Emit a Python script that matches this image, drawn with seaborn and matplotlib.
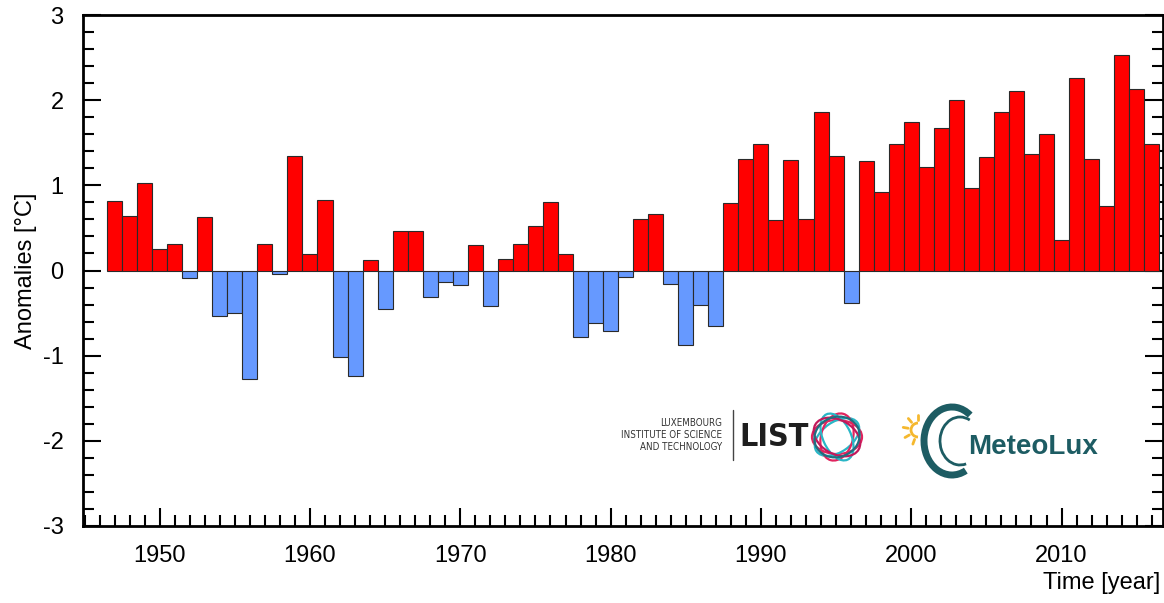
import numpy as np
import pandas as pd
import matplotlib
matplotlib.use("Agg")
import matplotlib.pyplot as plt
import seaborn as sns
from matplotlib.patches import Ellipse, Arc
from matplotlib.transforms import IdentityTransform
from matplotlib.ticker import MultipleLocator

years = list(range(1947, 2017))
anomalies = [
    0.82, 0.64, 1.03, 0.25, 0.31, -0.09, 0.63, -0.53, -0.50, -1.27,
    0.31, -0.04, 1.35, 0.19, 0.83, -1.01, -1.24, 0.12, -0.45, 0.46,
    0.46, -0.31, -0.14, -0.17, 0.30, -0.42, 0.13, 0.31, 0.52, 0.80,
    0.19, -0.78, -0.62, -0.71, -0.08, 0.60, 0.66, -0.16, -0.87, -0.40,
    -0.65, 0.79, 1.31, 1.48, 0.59, 1.30, 0.61, 1.86, 1.35, -0.38,
    1.29, 0.92, 1.49, 1.74, 1.22, 1.67, 2.00, 0.97, 1.33, 1.86,
    2.11, 1.37, 1.60, 0.36, 2.26, 1.31, 0.76, 2.53, 2.13, 1.49,
]
x_ticks = [1950, 1960, 1970, 1980, 1990, 2000, 2010]
y_ticks = [-3, -2, -1, 0, 1, 2, 3]

df = pd.DataFrame({"year": years, "anomaly": anomalies})
df["sign"] = np.where(df["anomaly"] >= 0, "pos", "neg")

sns.set_theme(style="white")
plt.rcParams["font.family"] = ["Liberation Sans", "DejaVu Sans"]
plt.rcParams["text.color"] = "black"
plt.rcParams["axes.labelcolor"] = "black"
plt.rcParams["xtick.color"] = "black"
plt.rcParams["ytick.color"] = "black"

W, H = 1164, 603
fig = plt.figure(figsize=(W / 100, H / 100), dpi=100)
ax = fig.add_axes([83 / W, 1 - 526 / H, 1080 / W, 511 / H])

sns.barplot(data=df, x="year", y="anomaly", hue="sign",
            palette={"pos": "#FF0000", "neg": "#6699FF"}, saturation=1,
            native_scale=True, width=1.0, dodge=False,
            edgecolor="#2a2a2a", linewidth=0.8, legend=False, ax=ax)

ax.set_xlim(1944.9, 2016.75)
ax.set_ylim(-3, 3)
ax.set_xticks(x_ticks)
ax.set_xticklabels([str(t) for t in x_ticks])
ax.set_yticks(y_ticks)
ax.set_yticklabels([str(t) for t in y_ticks])
ax.xaxis.set_minor_locator(MultipleLocator(1))
ax.yaxis.set_minor_locator(MultipleLocator(0.2))

ax.tick_params(axis="x", which="major", direction="in", length=13, width=1.5,
               labelsize=17, pad=14, bottom=True, top=False)
ax.tick_params(axis="x", which="minor", direction="in", length=8, width=1.5,
               bottom=True, top=False)
ax.tick_params(axis="y", which="major", direction="in", length=13, width=1.5,
               labelsize=17, pad=14, left=True, right=True)
ax.tick_params(axis="y", which="minor", direction="in", length=8, width=1.5,
               left=True, right=True)

for s in ax.spines.values():
    s.set_visible(True)
    s.set_color("black")
    s.set_linewidth(2)

ax.set_xlabel("")
ax.set_ylabel("Anomalies [°C]", fontsize=17)
ax.yaxis.set_label_coords((37 - 83) / 1080, 0.5)
fig.text(1160 / W, 1 - 583 / H, "Time [year]", fontsize=17,
         ha="right", va="center")

# ---- Logos (decorative approximations) ----
fig.text(722 / W, 1 - 435 / H,
         "LUXEMBOURG\nINSTITUTE OF SCIENCE\nAND TECHNOLOGY",
         fontsize=7, ha="right", va="center", color="#333333",
         linespacing=1.2, family="DejaVu Sans", stretch="condensed")
fig.add_artist(plt.Line2D([733 / W, 733 / W], [1 - 460 / H, 1 - 410 / H],
                          transform=fig.transFigure, color="#444444", lw=1))
fig.text(739 / W, 1 - 437 / H, "LIST", fontsize=23, fontweight="bold",
         ha="left", va="center", color="#1e1e1e",
         family="DejaVu Sans", stretch="condensed")
cx, cy = 837, 437
for ang, col, w_, h_ in [(0, "#e0245e", 50, 34), (35, "#29b6c6", 50, 30),
                         (75, "#e0245e", 48, 32), (115, "#29b6c6", 50, 28),
                         (150, "#c2185b", 50, 34), (20, "#1f6f80", 46, 40)]:
    e = Ellipse((cx, H - cy), w_, h_, angle=ang, fill=False,
                edgecolor=col, lw=1.6, transform=IdentityTransform())
    fig.add_artist(e)

# MeteoLux
teal = "#1d5c63"
fig.add_artist(Arc((952, H - 441), 56, 68, theta1=55, theta2=295,
                   edgecolor=teal, lw=5, transform=IdentityTransform()))
fig.add_artist(Arc((960, H - 441), 40, 48, theta1=65, theta2=285,
                   edgecolor=teal, lw=2, transform=IdentityTransform()))
sx, sy = 918, H - 430
fig.add_artist(Arc((sx, sy), 14, 14, theta1=90, theta2=270,
                   edgecolor="#f5b82e", lw=2, transform=IdentityTransform()))
for a in np.deg2rad([90, 130, 170, 210, 250]):
    fig.add_artist(plt.Line2D([sx + 10 * np.cos(a), sx + 15 * np.cos(a)],
                              [sy + 10 * np.sin(a), sy + 15 * np.sin(a)],
                              transform=IdentityTransform(),
                              color="#f5b82e", lw=2))
fig.text(968 / W, 1 - 447 / H, "MeteoLux", fontsize=20, fontweight="bold",
         ha="left", va="center", color=teal)

fig.savefig("out.png", dpi=100)
